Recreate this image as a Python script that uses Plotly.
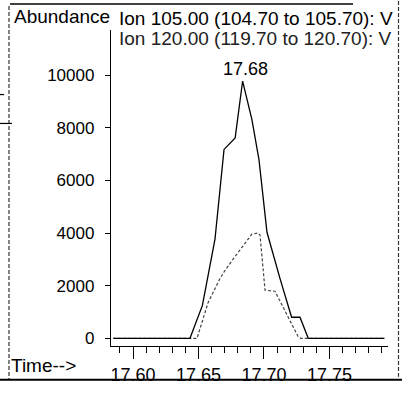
import plotly.graph_objects as go

# Ion 105.00 trace (solid)
t_105 = [17.585, 17.6435, 17.6530, 17.6626, 17.6695, 17.6780, 17.6837, 17.6908,
         17.6962, 17.7023, 17.7122, 17.7211, 17.7275, 17.7338, 17.792]
v_105 = [0, 0, 1250, 3770, 7180, 7620, 9780, 8315,
         6780, 4030, 2280, 800, 800, 0, 0]

# Ion 120.00 trace (dotted)
t_120 = [17.585, 17.6489, 17.6573, 17.6664, 17.6700, 17.6763, 17.6908, 17.6954,
         17.6970, 17.7008, 17.7084, 17.7260, 17.7280, 17.792]
v_120 = [0, 0, 1355, 2270, 2560, 3000, 3960, 4000,
         3920, 1830, 1790, 70, 0, 0]

peak_time = 17.6837
peak_value = 9780
peak_label = "17.68"

y_ticks = [0, 2000, 4000, 6000, 8000, 10000]
x_ticks = [17.60, 17.65, 17.70, 17.75]

header_1 = "Ion 105.00 (104.70 to 105.70): V"
header_2 = "Ion 120.00 (119.70 to 120.70): V"

FONT = "Liberation Sans, Arial, sans-serif"

# plot area in pixels
L, R, T, B = 111, 388, 30, 358
W, H = R - L, B - T


def px(x):
    return (x - L) / W


def py(y):
    return (B - y) / H


fig = go.Figure()
fig.add_trace(go.Scatter(x=t_120, y=v_120, mode="lines",
                         line=dict(color="#444444", width=1.2, dash="3px,2px"),
                         showlegend=False))
fig.add_trace(go.Scatter(x=t_105, y=v_105, mode="lines",
                         line=dict(color="black", width=1.3),
                         showlegend=False))

fig.update_layout(
    width=402, height=397,
    margin=dict(l=L, r=402 - R, t=T, b=397 - B),
    paper_bgcolor="white", plot_bgcolor="white",
    font=dict(family=FONT, color="black"),
    xaxis=dict(range=[17.5832, 17.7947], tickvals=x_ticks,
               ticktext=[f"{v:.2f}" for v in x_ticks],
               showgrid=False, zeroline=False, showline=True,
               linecolor="black", linewidth=1.3,
               ticks="outside", ticklen=12, tickwidth=1.3, tickcolor="black",
               tickfont=dict(size=18, family=FONT),
               minor=dict(dtick=0.01, tick0=17.60, ticks="outside", ticklen=6,
                          tickwidth=1.2, tickcolor="black", showgrid=False)),
    yaxis=dict(range=[-293, 11720], tickvals=y_ticks,
               ticktext=[str(v) for v in y_ticks],
               showgrid=False, zeroline=False, showline=True,
               linecolor="black", linewidth=1.3,
               ticks="outside", ticklen=5, tickwidth=1.2, tickcolor="black",
               tickfont=dict(size=17, family=FONT), ticklabelstandoff=7),
)

ann = []
ann.append(dict(x=px(117), y=py(18), xref="paper", yref="paper", text=header_1,
                showarrow=False, xanchor="left", yanchor="middle",
                font=dict(size=19, family=FONT, color="black")))
ann.append(dict(x=px(117), y=py(38.5), xref="paper", yref="paper", text=header_2,
                showarrow=False, xanchor="left", yanchor="middle",
                font=dict(size=19, family=FONT, color="#222222")))
ann.append(dict(x=px(12), y=py(16), xref="paper", yref="paper", text="Abundance",
                showarrow=False, xanchor="left", yanchor="middle",
                font=dict(size=19, family=FONT, color="black")))
ann.append(dict(x=px(9), y=py(378), xref="paper", yref="paper", text="Time-->",
                showarrow=False, xanchor="left", yanchor="middle",
                font=dict(size=19, family=FONT, color="black")))
ann.append(dict(x=peak_time, y=peak_value, xref="x", yref="y", text=peak_label,
                showarrow=False, xanchor="center", yanchor="middle",
                xshift=3, yshift=12,
                font=dict(size=18, family=FONT, color="black")))
fig.update_layout(annotations=ann)

shapes = []
def seg(x0, y0, x1, y1, color="#333333", width=1.2, dash="solid"):
    shapes.append(dict(type="line", xref="paper", yref="paper",
                       x0=px(x0), y0=py(y0), x1=px(x1), y1=py(y1),
                       line=dict(color=color, width=width, dash=dash)))

seg(9, 5, 9, 393, dash="4px,2px")          # left border
seg(398.5, 0, 398.5, 390, dash="4px,2px")  # right border
seg(10, 3, 353, 3, color="black", width=1.5)  # top line
seg(0, 393, 402, 393, color="black", width=2)  # bottom line
seg(0, 127, 12, 127, color="black", width=1.2)
seg(0, 97, 4, 97, color="black", width=1.2)
fig.update_layout(shapes=shapes)

fig.write_html("out.html")
